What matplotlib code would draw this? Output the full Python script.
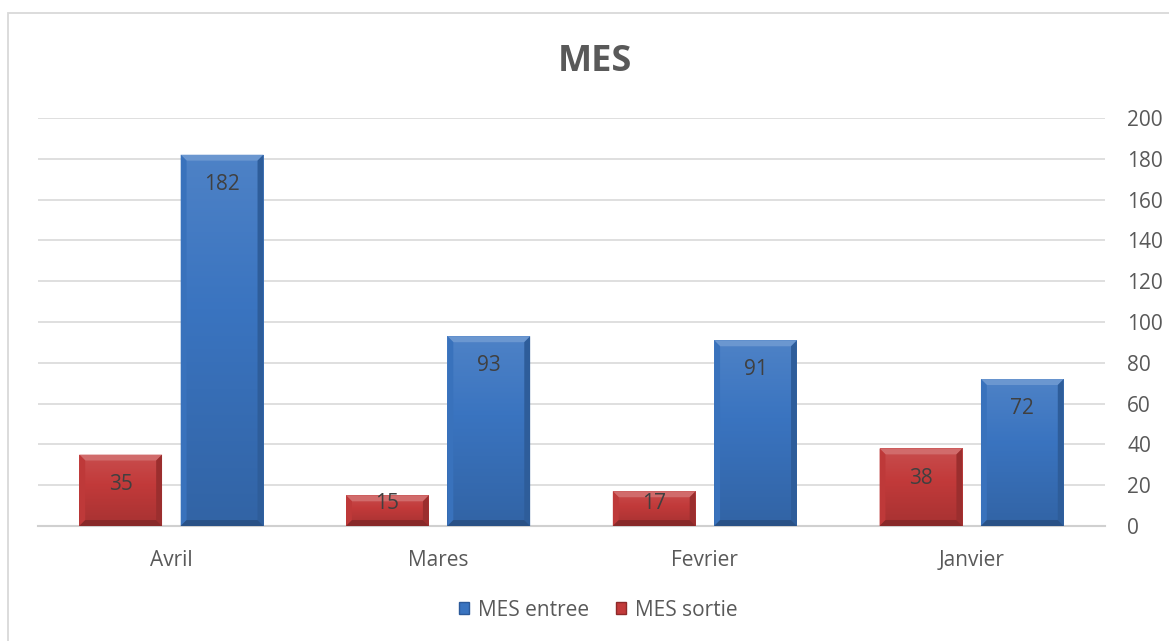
import numpy as np
import matplotlib
matplotlib.use('Agg')
import matplotlib.pyplot as plt
from matplotlib.patches import Polygon, Rectangle, Patch

plt.rcParams['font.family'] = ['Open Sans', 'DejaVu Sans']

# Données MES par mois
mois = ['Avril', 'Mares', 'Fevrier', 'Janvier']
mes_entree = [182, 93, 91, 72]
mes_sortie = [35, 15, 17, 38]

bleu = '#3a74c0'
rouge = '#c23a3a'
texte = '#595959'

fig = plt.figure(figsize=(11.69, 6.41), dpi=100)
fig.patch.set_facecolor('white')

# cadre du graphique
fig.add_artist(Rectangle((8 / 1169, -0.02), 1.2, 1 - 13 / 641 + 0.02,
                         transform=fig.transFigure, fill=False,
                         edgecolor='#d9d9d9', linewidth=1.3))

ax = fig.add_axes([38 / 1169, 1 - 526 / 641, 1067 / 1169, 408 / 641])

x = np.arange(len(mois))
largeur = 0.31
decal = 0.19


def melange(c, autre, t):
    c = np.array(matplotlib.colors.to_rgb(c))
    autre = np.array(matplotlib.colors.to_rgb(autre))
    return tuple(c * (1 - t) + autre * t)


def degrade(couleur, n=80):
    # ligne 0 = haut de la barre (plus clair), dernière ligne = bas (plus sombre)
    lignes = []
    for v in np.linspace(0, 1, n):
        l = 0.10 - 0.24 * v
        if l >= 0:
            lignes.append([melange(couleur, 'white', l)])
        else:
            lignes.append([melange(couleur, 'black', -l)])
    return np.array(lignes)


def barres_biseau(positions, valeurs, couleur):
    barres = ax.bar(positions, valeurs, largeur, color=couleur, zorder=3,
                    linewidth=0)
    img = degrade(couleur)
    # taille du biseau en unités de données
    bx = 0.022
    by = 2.9
    for b in barres:
        x0, y0 = b.get_x(), b.get_y()
        w, h = b.get_width(), b.get_height()
        x1, y1 = x0 + w, y0 + h
        im = ax.imshow(img, extent=(x0, x1, y0, y1), origin='upper',
                       aspect='auto', zorder=3.1, interpolation='bilinear')
        im.set_clip_path(b)
        # biseau : haut clair, côtés et bas légèrement plus sombres
        ax.add_patch(Polygon([(x0, y1), (x1, y1), (x1 - bx, y1 - by), (x0 + bx, y1 - by)],
                             color=melange(couleur, 'white', 0.25), zorder=3.2, lw=0))
        ax.add_patch(Polygon([(x0, y0), (x0, y1), (x0 + bx, y1 - by), (x0 + bx, y0 + by)],
                             color=melange(couleur, 'black', 0.02), zorder=3.2, lw=0))
        ax.add_patch(Polygon([(x1, y0), (x1, y1), (x1 - bx, y1 - by), (x1 - bx, y0 + by)],
                             color=melange(couleur, 'black', 0.20), zorder=3.2, lw=0))
        ax.add_patch(Polygon([(x0, y0), (x1, y0), (x1 - bx, y0 + by), (x0 + bx, y0 + by)],
                             color=melange(couleur, 'black', 0.30), zorder=3.2, lw=0))
        # étiquette à l'intérieur du haut de la barre, remontée si la barre est courte
        y_lab = max(h - 14.5, 10.8)
        ax.text(x0 + w / 2, y_lab, f'{h:.0f}', ha='center', va='center',
                fontsize=15, color='#404040', zorder=4)
    return barres


barres_biseau(x - decal, mes_sortie, rouge)
barres_biseau(x + decal, mes_entree, bleu)

ax.set_xlim(-0.5, len(mois) - 0.5)
ax.set_ylim(0, 200)
ax.set_yticks(np.arange(0, 201, 20))
ax.yaxis.tick_right()
ax.yaxis.grid(True, color='#d9d9d9', linewidth=1.2, zorder=0)
ax.set_axisbelow(True)
ax.set_xticks(x)
ax.set_xticklabels(mois)
ax.tick_params(axis='both', length=0, labelsize=15, labelcolor=texte)
ax.tick_params(axis='y', pad=16)
ax.tick_params(axis='x', pad=17)
for s in ['top', 'left', 'right']:
    ax.spines[s].set_visible(False)
ax.spines['bottom'].set_color('#d0d0d0')
ax.spines['bottom'].set_linewidth(1.5)

fig.text(595 / 1169, 1 - 62 / 641, 'MES', ha='center', va='center',
         fontsize=26, fontweight='bold', color=texte)

poignees = [Patch(facecolor=bleu, edgecolor='#2c5a9a', label='MES entree'),
            Patch(facecolor=rouge, edgecolor='#8e2a2a', label='MES sortie')]
fig.legend(handles=poignees, loc='center', bbox_to_anchor=(598 / 1169, 1 - 610 / 641),
           ncol=2, frameon=False, fontsize=15, labelcolor=texte,
           handlelength=0.5, handleheight=0.5, handletextpad=0.4, columnspacing=1.3)

plt.savefig('out.png', dpi=100)
plt.close()
